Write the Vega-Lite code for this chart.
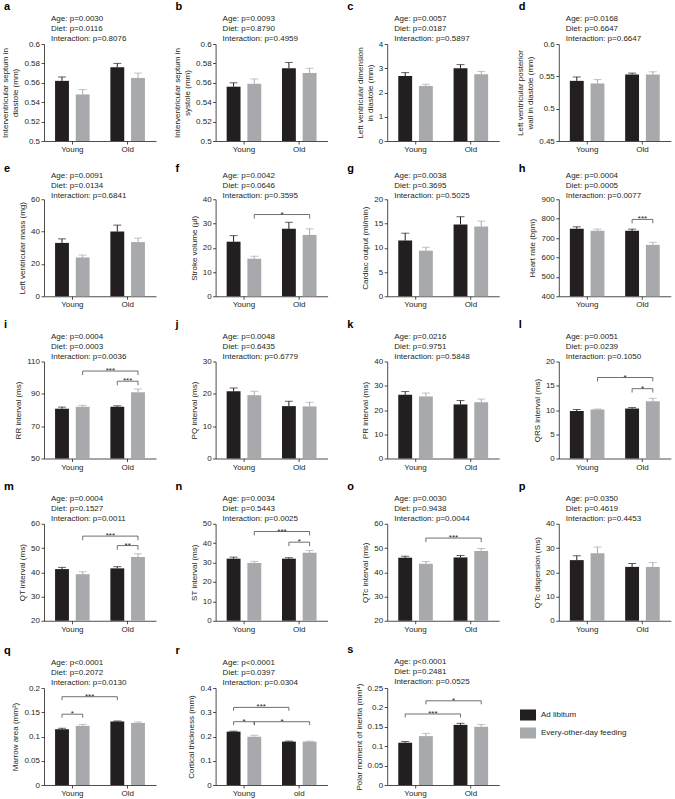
{
  "$schema": "https://vega.github.io/schema/vega-lite/v6.json",
  "background": "white",
  "padding": {"left": 1, "top": 1, "right": 5, "bottom": 2},
  "config": {
    "font": "Liberation Sans",
    "numberFormat": "~f",
    "view": {"stroke": null},
    "axis": {"domainColor": "#231f20", "tickColor": "#231f20", "labelColor": "#231f20", "titleColor": "#231f20", "labelFontSize": 8, "titleFontSize": 8, "titleFontWeight": "normal", "grid": false, "tickSize": 3, "domainWidth": 0.8, "tickWidth": 0.8},
    "axisX": {"labelAngle": 0, "labelPadding": 1.5},
    "axisY": {"labelPadding": 1.5, "titlePadding": 4, "titleLineHeight": 10},
    "title": {"anchor": "start", "frame": "group", "fontSize": 11, "fontWeight": "bold", "color": "#000000", "subtitleFontSize": 8, "subtitleColor": "#231f20", "subtitleLineHeight": 10, "subtitlePadding": 3, "offset": -3},
    "style": {"group-title": {"dx": -40}, "group-subtitle": {"dx": 7}}
  },
  "datasets": {
    "bars": [
      {"panel":"a","group":"Young","diet":"Ad libitum","mean":0.562,"upper":0.566},
      {"panel":"a","group":"Young","diet":"Every-other-day feeding","mean":0.548,"upper":0.553},
      {"panel":"a","group":"Old","diet":"Ad libitum","mean":0.576,"upper":0.580},
      {"panel":"a","group":"Old","diet":"Every-other-day feeding","mean":0.565,"upper":0.570},
      {"panel":"b","group":"Young","diet":"Ad libitum","mean":0.556,"upper":0.560},
      {"panel":"b","group":"Young","diet":"Every-other-day feeding","mean":0.559,"upper":0.564},
      {"panel":"b","group":"Old","diet":"Ad libitum","mean":0.575,"upper":0.581},
      {"panel":"b","group":"Old","diet":"Every-other-day feeding","mean":0.570,"upper":0.575},
      {"panel":"c","group":"Young","diet":"Ad libitum","mean":2.68,"upper":2.82},
      {"panel":"c","group":"Young","diet":"Every-other-day feeding","mean":2.27,"upper":2.34},
      {"panel":"c","group":"Old","diet":"Ad libitum","mean":3.0,"upper":3.15},
      {"panel":"c","group":"Old","diet":"Every-other-day feeding","mean":2.75,"upper":2.87},
      {"panel":"d","group":"Young","diet":"Ad libitum","mean":0.543,"upper":0.549},
      {"panel":"d","group":"Young","diet":"Every-other-day feeding","mean":0.539,"upper":0.545},
      {"panel":"d","group":"Old","diet":"Ad libitum","mean":0.553,"upper":0.555},
      {"panel":"d","group":"Old","diet":"Every-other-day feeding","mean":0.553,"upper":0.557},
      {"panel":"e","group":"Young","diet":"Ad libitum","mean":33,"upper":35.5},
      {"panel":"e","group":"Young","diet":"Every-other-day feeding","mean":24,"upper":25.5},
      {"panel":"e","group":"Old","diet":"Ad libitum","mean":40,"upper":44},
      {"panel":"e","group":"Old","diet":"Every-other-day feeding","mean":33.5,"upper":36},
      {"panel":"f","group":"Young","diet":"Ad libitum","mean":22.5,"upper":25},
      {"panel":"f","group":"Young","diet":"Every-other-day feeding","mean":15.5,"upper":16.5},
      {"panel":"f","group":"Old","diet":"Ad libitum","mean":27.8,"upper":30.5},
      {"panel":"f","group":"Old","diet":"Every-other-day feeding","mean":25.3,"upper":27.8},
      {"panel":"g","group":"Young","diet":"Ad libitum","mean":11.5,"upper":13},
      {"panel":"g","group":"Young","diet":"Every-other-day feeding","mean":9.4,"upper":10.1},
      {"panel":"g","group":"Old","diet":"Ad libitum","mean":14.8,"upper":16.4},
      {"panel":"g","group":"Old","diet":"Every-other-day feeding","mean":14.4,"upper":15.5},
      {"panel":"h","group":"Young","diet":"Ad libitum","mean":748,"upper":758},
      {"panel":"h","group":"Young","diet":"Every-other-day feeding","mean":738,"upper":746},
      {"panel":"h","group":"Old","diet":"Ad libitum","mean":737,"upper":746},
      {"panel":"h","group":"Old","diet":"Every-other-day feeding","mean":665,"upper":678},
      {"panel":"i","group":"Young","diet":"Ad libitum","mean":80.8,"upper":81.8},
      {"panel":"i","group":"Young","diet":"Every-other-day feeding","mean":82,"upper":82.9},
      {"panel":"i","group":"Old","diet":"Ad libitum","mean":82,"upper":82.6},
      {"panel":"i","group":"Old","diet":"Every-other-day feeding","mean":91,"upper":93},
      {"panel":"j","group":"Young","diet":"Ad libitum","mean":20.8,"upper":21.8},
      {"panel":"j","group":"Young","diet":"Every-other-day feeding","mean":19.6,"upper":20.8},
      {"panel":"j","group":"Old","diet":"Ad libitum","mean":16.2,"upper":17.7},
      {"panel":"j","group":"Old","diet":"Every-other-day feeding","mean":16.1,"upper":17.4},
      {"panel":"k","group":"Young","diet":"Ad libitum","mean":26.3,"upper":27.6},
      {"panel":"k","group":"Young","diet":"Every-other-day feeding","mean":25.6,"upper":27},
      {"panel":"k","group":"Old","diet":"Ad libitum","mean":22.3,"upper":23.9},
      {"panel":"k","group":"Old","diet":"Every-other-day feeding","mean":23.2,"upper":24.5},
      {"panel":"l","group":"Young","diet":"Ad libitum","mean":9.8,"upper":10.1},
      {"panel":"l","group":"Young","diet":"Every-other-day feeding","mean":10.1,"upper":10.2},
      {"panel":"l","group":"Old","diet":"Ad libitum","mean":10.3,"upper":10.5},
      {"panel":"l","group":"Old","diet":"Every-other-day feeding","mean":11.8,"upper":12.4},
      {"panel":"m","group":"Young","diet":"Ad libitum","mean":41.3,"upper":42},
      {"panel":"m","group":"Young","diet":"Every-other-day feeding","mean":39.2,"upper":40.2},
      {"panel":"m","group":"Old","diet":"Ad libitum","mean":41.6,"upper":42.3},
      {"panel":"m","group":"Old","diet":"Every-other-day feeding","mean":46.3,"upper":47.6},
      {"panel":"n","group":"Young","diet":"Ad libitum","mean":32,"upper":32.8},
      {"panel":"n","group":"Young","diet":"Every-other-day feeding","mean":29.8,"upper":30.6},
      {"panel":"n","group":"Old","diet":"Ad libitum","mean":32,"upper":32.5},
      {"panel":"n","group":"Old","diet":"Every-other-day feeding","mean":35,"upper":36.2},
      {"panel":"o","group":"Young","diet":"Ad libitum","mean":46,"upper":46.6},
      {"panel":"o","group":"Young","diet":"Every-other-day feeding","mean":43.5,"upper":44.4},
      {"panel":"o","group":"Old","diet":"Ad libitum","mean":46.1,"upper":46.9},
      {"panel":"o","group":"Old","diet":"Every-other-day feeding","mean":48.8,"upper":49.8},
      {"panel":"p","group":"Young","diet":"Ad libitum","mean":25,"upper":26.8},
      {"panel":"p","group":"Young","diet":"Every-other-day feeding","mean":27.8,"upper":30.4},
      {"panel":"p","group":"Old","diet":"Ad libitum","mean":22.2,"upper":23.6},
      {"panel":"p","group":"Old","diet":"Every-other-day feeding","mean":22.2,"upper":24},
      {"panel":"q","group":"Young","diet":"Ad libitum","mean":0.115,"upper":0.117},
      {"panel":"q","group":"Young","diet":"Every-other-day feeding","mean":0.122,"upper":0.125},
      {"panel":"q","group":"Old","diet":"Ad libitum","mean":0.131,"upper":0.132},
      {"panel":"q","group":"Old","diet":"Every-other-day feeding","mean":0.128,"upper":0.130},
      {"panel":"r","group":"Young","diet":"Ad libitum","mean":0.220,"upper":0.222},
      {"panel":"r","group":"Young","diet":"Every-other-day feeding","mean":0.199,"upper":0.205},
      {"panel":"r","group":"Old","diet":"Ad libitum","mean":0.179,"upper":0.181},
      {"panel":"r","group":"Old","diet":"Every-other-day feeding","mean":0.179,"upper":0.181},
      {"panel":"s","group":"Young","diet":"Ad libitum","mean":0.109,"upper":0.112},
      {"panel":"s","group":"Young","diet":"Every-other-day feeding","mean":0.126,"upper":0.133},
      {"panel":"s","group":"Old","diet":"Ad libitum","mean":0.155,"upper":0.159},
      {"panel":"s","group":"Old","diet":"Every-other-day feeding","mean":0.150,"upper":0.156}
    ],
    "brk": [
      {"panel":"f","id":"f1","ord":1,"group":"Young","diet":"Every-other-day feeding","value":32.0},
      {"panel":"f","id":"f1","ord":2,"group":"Young","diet":"Every-other-day feeding","value":33.7},
      {"panel":"f","id":"f1","ord":3,"group":"Old","diet":"Every-other-day feeding","value":33.7},
      {"panel":"f","id":"f1","ord":4,"group":"Old","diet":"Every-other-day feeding","value":32.0},
      {"panel":"h","id":"h1","ord":1,"group":"Old","diet":"Ad libitum","value":776},
      {"panel":"h","id":"h1","ord":2,"group":"Old","diet":"Ad libitum","value":796},
      {"panel":"h","id":"h1","ord":3,"group":"Old","diet":"Every-other-day feeding","value":796},
      {"panel":"h","id":"h1","ord":4,"group":"Old","diet":"Every-other-day feeding","value":776},
      {"panel":"i","id":"i1","ord":1,"group":"Young","diet":"Every-other-day feeding","value":101.6},
      {"panel":"i","id":"i1","ord":2,"group":"Young","diet":"Every-other-day feeding","value":104.1},
      {"panel":"i","id":"i1","ord":3,"group":"Old","diet":"Every-other-day feeding","value":104.1},
      {"panel":"i","id":"i1","ord":4,"group":"Old","diet":"Every-other-day feeding","value":101.6},
      {"panel":"i","id":"i2","ord":1,"group":"Old","diet":"Ad libitum","value":95.3},
      {"panel":"i","id":"i2","ord":2,"group":"Old","diet":"Ad libitum","value":97.8},
      {"panel":"i","id":"i2","ord":3,"group":"Old","diet":"Every-other-day feeding","value":97.8},
      {"panel":"i","id":"i2","ord":4,"group":"Old","diet":"Every-other-day feeding","value":95.3},
      {"panel":"l","id":"l1","ord":1,"group":"Young","diet":"Every-other-day feeding","value":15.9},
      {"panel":"l","id":"l1","ord":2,"group":"Young","diet":"Every-other-day feeding","value":16.7},
      {"panel":"l","id":"l1","ord":3,"group":"Old","diet":"Every-other-day feeding","value":16.7},
      {"panel":"l","id":"l1","ord":4,"group":"Old","diet":"Every-other-day feeding","value":15.9},
      {"panel":"l","id":"l2","ord":1,"group":"Old","diet":"Ad libitum","value":13.6},
      {"panel":"l","id":"l2","ord":2,"group":"Old","diet":"Ad libitum","value":14.4},
      {"panel":"l","id":"l2","ord":3,"group":"Old","diet":"Every-other-day feeding","value":14.4},
      {"panel":"l","id":"l2","ord":4,"group":"Old","diet":"Every-other-day feeding","value":13.6},
      {"panel":"m","id":"m1","ord":1,"group":"Young","diet":"Every-other-day feeding","value":53.2},
      {"panel":"m","id":"m1","ord":2,"group":"Young","diet":"Every-other-day feeding","value":54.9},
      {"panel":"m","id":"m1","ord":3,"group":"Old","diet":"Every-other-day feeding","value":54.9},
      {"panel":"m","id":"m1","ord":4,"group":"Old","diet":"Every-other-day feeding","value":53.2},
      {"panel":"m","id":"m2","ord":1,"group":"Old","diet":"Ad libitum","value":49.3},
      {"panel":"m","id":"m2","ord":2,"group":"Old","diet":"Ad libitum","value":51},
      {"panel":"m","id":"m2","ord":3,"group":"Old","diet":"Every-other-day feeding","value":51},
      {"panel":"m","id":"m2","ord":4,"group":"Old","diet":"Every-other-day feeding","value":49.3},
      {"panel":"n","id":"n1","ord":1,"group":"Young","diet":"Every-other-day feeding","value":44},
      {"panel":"n","id":"n1","ord":2,"group":"Young","diet":"Every-other-day feeding","value":46},
      {"panel":"n","id":"n1","ord":3,"group":"Old","diet":"Every-other-day feeding","value":46},
      {"panel":"n","id":"n1","ord":4,"group":"Old","diet":"Every-other-day feeding","value":44},
      {"panel":"n","id":"n2","ord":1,"group":"Old","diet":"Ad libitum","value":38.5},
      {"panel":"n","id":"n2","ord":2,"group":"Old","diet":"Ad libitum","value":40.5},
      {"panel":"n","id":"n2","ord":3,"group":"Old","diet":"Every-other-day feeding","value":40.5},
      {"panel":"n","id":"n2","ord":4,"group":"Old","diet":"Every-other-day feeding","value":38.5},
      {"panel":"o","id":"o1","ord":1,"group":"Young","diet":"Every-other-day feeding","value":52.4},
      {"panel":"o","id":"o1","ord":2,"group":"Young","diet":"Every-other-day feeding","value":54.1},
      {"panel":"o","id":"o1","ord":3,"group":"Old","diet":"Every-other-day feeding","value":54.1},
      {"panel":"o","id":"o1","ord":4,"group":"Old","diet":"Every-other-day feeding","value":52.4},
      {"panel":"q","id":"q1","ord":1,"group":"Young","diet":"Ad libitum","value":0.175},
      {"panel":"q","id":"q1","ord":2,"group":"Young","diet":"Ad libitum","value":0.182},
      {"panel":"q","id":"q1","ord":3,"group":"Old","diet":"Ad libitum","value":0.182},
      {"panel":"q","id":"q1","ord":4,"group":"Old","diet":"Ad libitum","value":0.175},
      {"panel":"q","id":"q2","ord":1,"group":"Young","diet":"Ad libitum","value":0.139},
      {"panel":"q","id":"q2","ord":2,"group":"Young","diet":"Ad libitum","value":0.146},
      {"panel":"q","id":"q2","ord":3,"group":"Young","diet":"Every-other-day feeding","value":0.146},
      {"panel":"q","id":"q2","ord":4,"group":"Young","diet":"Every-other-day feeding","value":0.139},
      {"panel":"r","id":"r1","ord":1,"group":"Young","diet":"Ad libitum","value":0.306},
      {"panel":"r","id":"r1","ord":2,"group":"Young","diet":"Ad libitum","value":0.320},
      {"panel":"r","id":"r1","ord":3,"group":"Old","diet":"Ad libitum","value":0.320},
      {"panel":"r","id":"r1","ord":4,"group":"Old","diet":"Ad libitum","value":0.306},
      {"panel":"r","id":"r2","ord":1,"group":"Young","diet":"Ad libitum","value":0.247},
      {"panel":"r","id":"r2","ord":2,"group":"Young","diet":"Ad libitum","value":0.261},
      {"panel":"r","id":"r2","ord":3,"group":"Young","diet":"Every-other-day feeding","value":0.261},
      {"panel":"r","id":"r2","ord":4,"group":"Young","diet":"Every-other-day feeding","value":0.247},
      {"panel":"r","id":"r3","ord":1,"group":"Young","diet":"Every-other-day feeding","value":0.247},
      {"panel":"r","id":"r3","ord":2,"group":"Young","diet":"Every-other-day feeding","value":0.261},
      {"panel":"r","id":"r3","ord":3,"group":"Old","diet":"Every-other-day feeding","value":0.261},
      {"panel":"r","id":"r3","ord":4,"group":"Old","diet":"Every-other-day feeding","value":0.247},
      {"panel":"s","id":"s1","ord":1,"group":"Young","diet":"Every-other-day feeding","value":0.208},
      {"panel":"s","id":"s1","ord":2,"group":"Young","diet":"Every-other-day feeding","value":0.217},
      {"panel":"s","id":"s1","ord":3,"group":"Old","diet":"Every-other-day feeding","value":0.217},
      {"panel":"s","id":"s1","ord":4,"group":"Old","diet":"Every-other-day feeding","value":0.208},
      {"panel":"s","id":"s2","ord":1,"group":"Young","diet":"Ad libitum","value":0.174},
      {"panel":"s","id":"s2","ord":2,"group":"Young","diet":"Ad libitum","value":0.183},
      {"panel":"s","id":"s2","ord":3,"group":"Old","diet":"Ad libitum","value":0.183},
      {"panel":"s","id":"s2","ord":4,"group":"Old","diet":"Ad libitum","value":0.174}
    ],
    "stars": [
      {"panel":"f","kind":"cross","group":"Young","diet":"Every-other-day feeding","value":33.7,"label":"*"},
      {"panel":"h","kind":"pair","group":"Old","diet":"Ad libitum","value":796,"label":"***"},
      {"panel":"i","kind":"cross","group":"Young","diet":"Every-other-day feeding","value":104.1,"label":"***"},
      {"panel":"i","kind":"pair","group":"Old","diet":"Ad libitum","value":97.8,"label":"***"},
      {"panel":"l","kind":"cross","group":"Young","diet":"Every-other-day feeding","value":16.7,"label":"*"},
      {"panel":"l","kind":"pair","group":"Old","diet":"Ad libitum","value":14.4,"label":"*"},
      {"panel":"m","kind":"cross","group":"Young","diet":"Every-other-day feeding","value":54.9,"label":"***"},
      {"panel":"m","kind":"pair","group":"Old","diet":"Ad libitum","value":51,"label":"**"},
      {"panel":"n","kind":"cross","group":"Young","diet":"Every-other-day feeding","value":46,"label":"***"},
      {"panel":"n","kind":"pair","group":"Old","diet":"Ad libitum","value":40.5,"label":"*"},
      {"panel":"o","kind":"cross","group":"Young","diet":"Every-other-day feeding","value":54.1,"label":"***"},
      {"panel":"q","kind":"cross","group":"Young","diet":"Ad libitum","value":0.182,"label":"***"},
      {"panel":"q","kind":"pair","group":"Young","diet":"Ad libitum","value":0.146,"label":"*"},
      {"panel":"r","kind":"cross","group":"Young","diet":"Ad libitum","value":0.320,"label":"***"},
      {"panel":"r","kind":"pair","group":"Young","diet":"Ad libitum","value":0.261,"label":"*"},
      {"panel":"r","kind":"cross","group":"Young","diet":"Every-other-day feeding","value":0.261,"label":"*"},
      {"panel":"s","kind":"cross","group":"Young","diet":"Every-other-day feeding","value":0.217,"label":"*"},
      {"panel":"s","kind":"cross","group":"Young","diet":"Ad libitum","value":0.183,"label":"***"}
    ]
  },
  "spacing": 9.25,
  "resolve": {"scale": {"xOffset": "independent"}},
  "vconcat": [
   {"hconcat": [
    {"title": {"text": "a", "subtitle": ["Age: p=0.0030", "Diet: p=0.0116", "Interaction: p=0.8076"]}, "width": 112, "height": 97,
     "encoding": {"x": {"field": "group", "type": "nominal", "sort": ["Young", "Old"], "scale": {"paddingInner": 0.375, "paddingOuter": 0.2}, "axis": {"title": null}},
       "y": {"field": "mean", "type": "quantitative", "scale": {"domain": [0.5, 0.6], "nice": false, "zero": false}, "axis": {"values": [0.5, 0.52, 0.54, 0.56, 0.58, 0.6], "title": ["Interventricular septum in", "diastole (mm)"]}}},
     "layer": [
       {"data": {"name": "bars"}, "transform": [{"filter": "datum.panel === 'a'"}], "mark": "bar", "encoding": {"y2": {"datum": 0.5}, "xOffset": {"field": "diet", "type": "nominal", "sort": ["Ad libitum", "Every-other-day feeding"], "scale": {"paddingInner": 0.33, "paddingOuter": 0}}, "color": {"field": "diet", "type": "nominal", "scale": {"domain": ["Ad libitum", "Every-other-day feeding"], "range": ["#231f20", "#a7a9ac"]}, "legend": {"orient": "none", "legendX": 476, "legendY": 663, "title": null, "symbolType": "M-1,-0.69H1V0.69H-1Z", "symbolSize": 256, "symbolStrokeWidth": 0, "labelFontSize": 8, "labelColor": "#231f20", "rowPadding": 4, "labelOffset": 5}}}},
       {"data": {"name": "bars"}, "transform": [{"filter": "datum.panel === 'a'"}], "mark": {"type": "rule", "strokeWidth": 1}, "encoding": {"xOffset": {"field": "diet", "type": "nominal", "sort": ["Ad libitum", "Every-other-day feeding"]}, "y2": {"field": "upper"}, "color": {"field": "diet", "type": "nominal", "legend": null}}},
       {"data": {"name": "bars"}, "transform": [{"filter": "datum.panel === 'a'"}], "mark": {"type": "tick", "thickness": 1, "size": 8}, "encoding": {"xOffset": {"field": "diet", "type": "nominal", "sort": ["Ad libitum", "Every-other-day feeding"]}, "y": {"field": "upper", "type": "quantitative", "scale": {"domain": [0.5, 0.6], "nice": false, "zero": false}}, "color": {"field": "diet", "type": "nominal", "legend": null}}}
     ]},
    {"title": {"text": "b", "subtitle": ["Age: p=0.0093", "Diet: p=0.8790", "Interaction: p=0.4959"]}, "width": 112, "height": 97,
     "encoding": {"x": {"field": "group", "type": "nominal", "sort": ["Young", "Old"], "scale": {"paddingInner": 0.375, "paddingOuter": 0.2}, "axis": {"title": null}},
       "y": {"field": "mean", "type": "quantitative", "scale": {"domain": [0.5, 0.6], "nice": false, "zero": false}, "axis": {"values": [0.5, 0.52, 0.54, 0.56, 0.58, 0.6], "title": ["Interventricular septum in", "systole (mm)"]}}},
     "layer": [
       {"data": {"name": "bars"}, "transform": [{"filter": "datum.panel === 'b'"}], "mark": "bar", "encoding": {"y2": {"datum": 0.5}, "xOffset": {"field": "diet", "type": "nominal", "sort": ["Ad libitum", "Every-other-day feeding"], "scale": {"paddingInner": 0.33, "paddingOuter": 0}}, "color": {"field": "diet", "type": "nominal", "scale": {"domain": ["Ad libitum", "Every-other-day feeding"], "range": ["#231f20", "#a7a9ac"]}}}},
       {"data": {"name": "bars"}, "transform": [{"filter": "datum.panel === 'b'"}], "mark": {"type": "rule", "strokeWidth": 1}, "encoding": {"xOffset": {"field": "diet", "type": "nominal", "sort": ["Ad libitum", "Every-other-day feeding"]}, "y2": {"field": "upper"}, "color": {"field": "diet", "type": "nominal", "legend": null}}},
       {"data": {"name": "bars"}, "transform": [{"filter": "datum.panel === 'b'"}], "mark": {"type": "tick", "thickness": 1, "size": 8}, "encoding": {"xOffset": {"field": "diet", "type": "nominal", "sort": ["Ad libitum", "Every-other-day feeding"]}, "y": {"field": "upper", "type": "quantitative", "scale": {"domain": [0.5, 0.6], "nice": false, "zero": false}}, "color": {"field": "diet", "type": "nominal", "legend": null}}}
     ]},
    {"title": {"text": "c", "subtitle": ["Age: p=0.0057", "Diet: p=0.0187", "Interaction: p=0.5897"]}, "width": 112, "height": 97,
     "encoding": {"x": {"field": "group", "type": "nominal", "sort": ["Young", "Old"], "scale": {"paddingInner": 0.375, "paddingOuter": 0.2}, "axis": {"title": null}},
       "y": {"field": "mean", "type": "quantitative", "scale": {"domain": [0, 4], "nice": false, "zero": false}, "axis": {"values": [0, 1, 2, 3, 4], "title": ["Left ventricular dimension", "in diastole (mm)"]}}},
     "layer": [
       {"data": {"name": "bars"}, "transform": [{"filter": "datum.panel === 'c'"}], "mark": "bar", "encoding": {"y2": {"datum": 0}, "xOffset": {"field": "diet", "type": "nominal", "sort": ["Ad libitum", "Every-other-day feeding"], "scale": {"paddingInner": 0.33, "paddingOuter": 0}}, "color": {"field": "diet", "type": "nominal", "scale": {"domain": ["Ad libitum", "Every-other-day feeding"], "range": ["#231f20", "#a7a9ac"]}}}},
       {"data": {"name": "bars"}, "transform": [{"filter": "datum.panel === 'c'"}], "mark": {"type": "rule", "strokeWidth": 1}, "encoding": {"xOffset": {"field": "diet", "type": "nominal", "sort": ["Ad libitum", "Every-other-day feeding"]}, "y2": {"field": "upper"}, "color": {"field": "diet", "type": "nominal", "legend": null}}},
       {"data": {"name": "bars"}, "transform": [{"filter": "datum.panel === 'c'"}], "mark": {"type": "tick", "thickness": 1, "size": 8}, "encoding": {"xOffset": {"field": "diet", "type": "nominal", "sort": ["Ad libitum", "Every-other-day feeding"]}, "y": {"field": "upper", "type": "quantitative", "scale": {"domain": [0, 4], "nice": false, "zero": false}}, "color": {"field": "diet", "type": "nominal", "legend": null}}}
     ]},
    {"title": {"text": "d", "subtitle": ["Age: p=0.0168", "Diet: p=0.6647", "Interaction: p=0.6647"]}, "width": 112, "height": 97,
     "encoding": {"x": {"field": "group", "type": "nominal", "sort": ["Young", "Old"], "scale": {"paddingInner": 0.375, "paddingOuter": 0.2}, "axis": {"title": null}},
       "y": {"field": "mean", "type": "quantitative", "scale": {"domain": [0.45, 0.6], "nice": false, "zero": false}, "axis": {"values": [0.45, 0.5, 0.55, 0.6], "title": ["Left ventricular posterior", "wall in diastole (mm)"]}}},
     "layer": [
       {"data": {"name": "bars"}, "transform": [{"filter": "datum.panel === 'd'"}], "mark": "bar", "encoding": {"y2": {"datum": 0.45}, "xOffset": {"field": "diet", "type": "nominal", "sort": ["Ad libitum", "Every-other-day feeding"], "scale": {"paddingInner": 0.33, "paddingOuter": 0}}, "color": {"field": "diet", "type": "nominal", "scale": {"domain": ["Ad libitum", "Every-other-day feeding"], "range": ["#231f20", "#a7a9ac"]}}}},
       {"data": {"name": "bars"}, "transform": [{"filter": "datum.panel === 'd'"}], "mark": {"type": "rule", "strokeWidth": 1}, "encoding": {"xOffset": {"field": "diet", "type": "nominal", "sort": ["Ad libitum", "Every-other-day feeding"]}, "y2": {"field": "upper"}, "color": {"field": "diet", "type": "nominal", "legend": null}}},
       {"data": {"name": "bars"}, "transform": [{"filter": "datum.panel === 'd'"}], "mark": {"type": "tick", "thickness": 1, "size": 8}, "encoding": {"xOffset": {"field": "diet", "type": "nominal", "sort": ["Ad libitum", "Every-other-day feeding"]}, "y": {"field": "upper", "type": "quantitative", "scale": {"domain": [0.45, 0.6], "nice": false, "zero": false}}, "color": {"field": "diet", "type": "nominal", "legend": null}}}
     ]}
   ], "bounds": "flush", "spacing": 59.6, "resolve": {"scale": {"xOffset": "independent"}}},
   {"hconcat": [
    {"title": {"text": "e", "subtitle": ["Age: p=0.0091", "Diet: p=0.0134", "Interaction: p=0.6841"], "subtitlePadding": -2, "offset": -5}, "width": 112, "height": 97,
     "encoding": {"x": {"field": "group", "type": "nominal", "sort": ["Young", "Old"], "scale": {"paddingInner": 0.375, "paddingOuter": 0.2}, "axis": {"title": null}},
       "y": {"field": "mean", "type": "quantitative", "scale": {"domain": [0, 60], "nice": false, "zero": false}, "axis": {"values": [0, 20, 40, 60], "title": "Left ventricular mass (mg)"}}},
     "layer": [
       {"data": {"name": "bars"}, "transform": [{"filter": "datum.panel === 'e'"}], "mark": "bar", "encoding": {"y2": {"datum": 0}, "xOffset": {"field": "diet", "type": "nominal", "sort": ["Ad libitum", "Every-other-day feeding"], "scale": {"paddingInner": 0.33, "paddingOuter": 0}}, "color": {"field": "diet", "type": "nominal", "scale": {"domain": ["Ad libitum", "Every-other-day feeding"], "range": ["#231f20", "#a7a9ac"]}}}},
       {"data": {"name": "bars"}, "transform": [{"filter": "datum.panel === 'e'"}], "mark": {"type": "rule", "strokeWidth": 1}, "encoding": {"xOffset": {"field": "diet", "type": "nominal", "sort": ["Ad libitum", "Every-other-day feeding"]}, "y2": {"field": "upper"}, "color": {"field": "diet", "type": "nominal", "legend": null}}},
       {"data": {"name": "bars"}, "transform": [{"filter": "datum.panel === 'e'"}], "mark": {"type": "tick", "thickness": 1, "size": 8}, "encoding": {"xOffset": {"field": "diet", "type": "nominal", "sort": ["Ad libitum", "Every-other-day feeding"]}, "y": {"field": "upper", "type": "quantitative", "scale": {"domain": [0, 60], "nice": false, "zero": false}}, "color": {"field": "diet", "type": "nominal", "legend": null}}}
     ]},
    {"title": {"text": "f", "subtitle": ["Age: p=0.0042", "Diet: p=0.0646", "Interaction: p=0.3595"], "subtitlePadding": -2, "offset": -5}, "width": 112, "height": 97,
     "encoding": {"x": {"field": "group", "type": "nominal", "sort": ["Young", "Old"], "scale": {"paddingInner": 0.375, "paddingOuter": 0.2}, "axis": {"title": null}},
       "y": {"field": "mean", "type": "quantitative", "scale": {"domain": [0, 40], "nice": false, "zero": false}, "axis": {"values": [0, 10, 20, 30, 40], "title": "Stroke volume (μl)"}}},
     "layer": [
       {"data": {"name": "bars"}, "transform": [{"filter": "datum.panel === 'f'"}], "mark": "bar", "encoding": {"y2": {"datum": 0}, "xOffset": {"field": "diet", "type": "nominal", "sort": ["Ad libitum", "Every-other-day feeding"], "scale": {"paddingInner": 0.33, "paddingOuter": 0}}, "color": {"field": "diet", "type": "nominal", "scale": {"domain": ["Ad libitum", "Every-other-day feeding"], "range": ["#231f20", "#a7a9ac"]}}}},
       {"data": {"name": "bars"}, "transform": [{"filter": "datum.panel === 'f'"}], "mark": {"type": "rule", "strokeWidth": 1}, "encoding": {"xOffset": {"field": "diet", "type": "nominal", "sort": ["Ad libitum", "Every-other-day feeding"]}, "y2": {"field": "upper"}, "color": {"field": "diet", "type": "nominal", "legend": null}}},
       {"data": {"name": "bars"}, "transform": [{"filter": "datum.panel === 'f'"}], "mark": {"type": "tick", "thickness": 1, "size": 8}, "encoding": {"xOffset": {"field": "diet", "type": "nominal", "sort": ["Ad libitum", "Every-other-day feeding"]}, "y": {"field": "upper", "type": "quantitative", "scale": {"domain": [0, 40], "nice": false, "zero": false}}, "color": {"field": "diet", "type": "nominal", "legend": null}}},
       {"data": {"name": "brk"}, "transform": [{"filter": "datum.panel === 'f'"}], "mark": {"type": "line", "color": "#4d4d4d", "strokeWidth": 0.8}, "encoding": {"xOffset": {"field": "diet", "type": "nominal", "sort": ["Ad libitum", "Every-other-day feeding"]}, "y": {"field": "value", "type": "quantitative", "scale": {"domain": [0, 40], "nice": false, "zero": false}}, "detail": {"field": "id"}, "order": {"field": "ord"}}},
       {"data": {"name": "stars"}, "transform": [{"filter": "datum.panel === 'f' && datum.kind === 'cross'"}], "mark": {"type": "text", "fontSize": 8, "baseline": "alphabetic", "dy": 2, "dx": 27.65, "color": "#231f20"}, "encoding": {"xOffset": {"field": "diet", "type": "nominal", "sort": ["Ad libitum", "Every-other-day feeding"]}, "y": {"field": "value", "type": "quantitative", "scale": {"domain": [0, 40], "nice": false, "zero": false}}, "text": {"field": "label"}}}
     ]},
    {"title": {"text": "g", "subtitle": ["Age: p=0.0038", "Diet: p=0.3695", "Interaction: p=0.5025"], "subtitlePadding": -2, "offset": -5}, "width": 112, "height": 97,
     "encoding": {"x": {"field": "group", "type": "nominal", "sort": ["Young", "Old"], "scale": {"paddingInner": 0.375, "paddingOuter": 0.2}, "axis": {"title": null}},
       "y": {"field": "mean", "type": "quantitative", "scale": {"domain": [0, 20], "nice": false, "zero": false}, "axis": {"values": [0, 5, 10, 15, 20], "title": "Cardiac output (ml/min)"}}},
     "layer": [
       {"data": {"name": "bars"}, "transform": [{"filter": "datum.panel === 'g'"}], "mark": "bar", "encoding": {"y2": {"datum": 0}, "xOffset": {"field": "diet", "type": "nominal", "sort": ["Ad libitum", "Every-other-day feeding"], "scale": {"paddingInner": 0.33, "paddingOuter": 0}}, "color": {"field": "diet", "type": "nominal", "scale": {"domain": ["Ad libitum", "Every-other-day feeding"], "range": ["#231f20", "#a7a9ac"]}}}},
       {"data": {"name": "bars"}, "transform": [{"filter": "datum.panel === 'g'"}], "mark": {"type": "rule", "strokeWidth": 1}, "encoding": {"xOffset": {"field": "diet", "type": "nominal", "sort": ["Ad libitum", "Every-other-day feeding"]}, "y2": {"field": "upper"}, "color": {"field": "diet", "type": "nominal", "legend": null}}},
       {"data": {"name": "bars"}, "transform": [{"filter": "datum.panel === 'g'"}], "mark": {"type": "tick", "thickness": 1, "size": 8}, "encoding": {"xOffset": {"field": "diet", "type": "nominal", "sort": ["Ad libitum", "Every-other-day feeding"]}, "y": {"field": "upper", "type": "quantitative", "scale": {"domain": [0, 20], "nice": false, "zero": false}}, "color": {"field": "diet", "type": "nominal", "legend": null}}}
     ]},
    {"title": {"text": "h", "subtitle": ["Age: p=0.0004", "Diet: p=0.0005", "Interaction: p=0.0077"], "subtitlePadding": -2, "offset": -5}, "width": 112, "height": 97,
     "encoding": {"x": {"field": "group", "type": "nominal", "sort": ["Young", "Old"], "scale": {"paddingInner": 0.375, "paddingOuter": 0.2}, "axis": {"title": null}},
       "y": {"field": "mean", "type": "quantitative", "scale": {"domain": [400, 900], "nice": false, "zero": false}, "axis": {"values": [400, 500, 600, 700, 800, 900], "title": "Heart rate (bpm)"}}},
     "layer": [
       {"data": {"name": "bars"}, "transform": [{"filter": "datum.panel === 'h'"}], "mark": "bar", "encoding": {"y2": {"datum": 400}, "xOffset": {"field": "diet", "type": "nominal", "sort": ["Ad libitum", "Every-other-day feeding"], "scale": {"paddingInner": 0.33, "paddingOuter": 0}}, "color": {"field": "diet", "type": "nominal", "scale": {"domain": ["Ad libitum", "Every-other-day feeding"], "range": ["#231f20", "#a7a9ac"]}}}},
       {"data": {"name": "bars"}, "transform": [{"filter": "datum.panel === 'h'"}], "mark": {"type": "rule", "strokeWidth": 1}, "encoding": {"xOffset": {"field": "diet", "type": "nominal", "sort": ["Ad libitum", "Every-other-day feeding"]}, "y2": {"field": "upper"}, "color": {"field": "diet", "type": "nominal", "legend": null}}},
       {"data": {"name": "bars"}, "transform": [{"filter": "datum.panel === 'h'"}], "mark": {"type": "tick", "thickness": 1, "size": 8}, "encoding": {"xOffset": {"field": "diet", "type": "nominal", "sort": ["Ad libitum", "Every-other-day feeding"]}, "y": {"field": "upper", "type": "quantitative", "scale": {"domain": [400, 900], "nice": false, "zero": false}}, "color": {"field": "diet", "type": "nominal", "legend": null}}},
       {"data": {"name": "brk"}, "transform": [{"filter": "datum.panel === 'h'"}], "mark": {"type": "line", "color": "#4d4d4d", "strokeWidth": 0.8}, "encoding": {"xOffset": {"field": "diet", "type": "nominal", "sort": ["Ad libitum", "Every-other-day feeding"]}, "y": {"field": "value", "type": "quantitative", "scale": {"domain": [400, 900], "nice": false, "zero": false}}, "detail": {"field": "id"}, "order": {"field": "ord"}}},
       {"data": {"name": "stars"}, "transform": [{"filter": "datum.panel === 'h' && datum.kind === 'pair'"}], "mark": {"type": "text", "fontSize": 8, "baseline": "alphabetic", "dy": 2, "color": "#231f20"}, "encoding": {"y": {"field": "value", "type": "quantitative", "scale": {"domain": [400, 900], "nice": false, "zero": false}}, "text": {"field": "label"}}}
     ]}
   ], "bounds": "flush", "spacing": 59.6, "resolve": {"scale": {"xOffset": "independent"}}},
   {"hconcat": [
    {"title": {"text": "i", "subtitle": ["Age: p=0.0004", "Diet: p=0.0003", "Interaction: p=0.0036"]}, "width": 112, "height": 97,
     "encoding": {"x": {"field": "group", "type": "nominal", "sort": ["Young", "Old"], "scale": {"paddingInner": 0.375, "paddingOuter": 0.2}, "axis": {"title": null}},
       "y": {"field": "mean", "type": "quantitative", "scale": {"domain": [50, 110], "nice": false, "zero": false}, "axis": {"values": [50, 70, 90, 110], "title": "RR interval (ms)"}}},
     "layer": [
       {"data": {"name": "bars"}, "transform": [{"filter": "datum.panel === 'i'"}], "mark": "bar", "encoding": {"y2": {"datum": 50}, "xOffset": {"field": "diet", "type": "nominal", "sort": ["Ad libitum", "Every-other-day feeding"], "scale": {"paddingInner": 0.33, "paddingOuter": 0}}, "color": {"field": "diet", "type": "nominal", "scale": {"domain": ["Ad libitum", "Every-other-day feeding"], "range": ["#231f20", "#a7a9ac"]}}}},
       {"data": {"name": "bars"}, "transform": [{"filter": "datum.panel === 'i'"}], "mark": {"type": "rule", "strokeWidth": 1}, "encoding": {"xOffset": {"field": "diet", "type": "nominal", "sort": ["Ad libitum", "Every-other-day feeding"]}, "y2": {"field": "upper"}, "color": {"field": "diet", "type": "nominal", "legend": null}}},
       {"data": {"name": "bars"}, "transform": [{"filter": "datum.panel === 'i'"}], "mark": {"type": "tick", "thickness": 1, "size": 8}, "encoding": {"xOffset": {"field": "diet", "type": "nominal", "sort": ["Ad libitum", "Every-other-day feeding"]}, "y": {"field": "upper", "type": "quantitative", "scale": {"domain": [50, 110], "nice": false, "zero": false}}, "color": {"field": "diet", "type": "nominal", "legend": null}}},
       {"data": {"name": "brk"}, "transform": [{"filter": "datum.panel === 'i'"}], "mark": {"type": "line", "color": "#4d4d4d", "strokeWidth": 0.8}, "encoding": {"xOffset": {"field": "diet", "type": "nominal", "sort": ["Ad libitum", "Every-other-day feeding"]}, "y": {"field": "value", "type": "quantitative", "scale": {"domain": [50, 110], "nice": false, "zero": false}}, "detail": {"field": "id"}, "order": {"field": "ord"}}},
       {"data": {"name": "stars"}, "transform": [{"filter": "datum.panel === 'i' && datum.kind === 'pair'"}], "mark": {"type": "text", "fontSize": 8, "baseline": "alphabetic", "dy": 2, "color": "#231f20"}, "encoding": {"y": {"field": "value", "type": "quantitative", "scale": {"domain": [50, 110], "nice": false, "zero": false}}, "text": {"field": "label"}}},
       {"data": {"name": "stars"}, "transform": [{"filter": "datum.panel === 'i' && datum.kind === 'cross'"}], "mark": {"type": "text", "fontSize": 8, "baseline": "alphabetic", "dy": 2, "dx": 27.65, "color": "#231f20"}, "encoding": {"xOffset": {"field": "diet", "type": "nominal", "sort": ["Ad libitum", "Every-other-day feeding"]}, "y": {"field": "value", "type": "quantitative", "scale": {"domain": [50, 110], "nice": false, "zero": false}}, "text": {"field": "label"}}}
     ]},
    {"title": {"text": "j", "subtitle": ["Age: p=0.0048", "Diet: p=0.6435", "Interaction: p=0.6779"]}, "width": 112, "height": 97,
     "encoding": {"x": {"field": "group", "type": "nominal", "sort": ["Young", "Old"], "scale": {"paddingInner": 0.375, "paddingOuter": 0.2}, "axis": {"title": null}},
       "y": {"field": "mean", "type": "quantitative", "scale": {"domain": [0, 30], "nice": false, "zero": false}, "axis": {"values": [0, 10, 20, 30], "title": "PQ interval (ms)"}}},
     "layer": [
       {"data": {"name": "bars"}, "transform": [{"filter": "datum.panel === 'j'"}], "mark": "bar", "encoding": {"y2": {"datum": 0}, "xOffset": {"field": "diet", "type": "nominal", "sort": ["Ad libitum", "Every-other-day feeding"], "scale": {"paddingInner": 0.33, "paddingOuter": 0}}, "color": {"field": "diet", "type": "nominal", "scale": {"domain": ["Ad libitum", "Every-other-day feeding"], "range": ["#231f20", "#a7a9ac"]}}}},
       {"data": {"name": "bars"}, "transform": [{"filter": "datum.panel === 'j'"}], "mark": {"type": "rule", "strokeWidth": 1}, "encoding": {"xOffset": {"field": "diet", "type": "nominal", "sort": ["Ad libitum", "Every-other-day feeding"]}, "y2": {"field": "upper"}, "color": {"field": "diet", "type": "nominal", "legend": null}}},
       {"data": {"name": "bars"}, "transform": [{"filter": "datum.panel === 'j'"}], "mark": {"type": "tick", "thickness": 1, "size": 8}, "encoding": {"xOffset": {"field": "diet", "type": "nominal", "sort": ["Ad libitum", "Every-other-day feeding"]}, "y": {"field": "upper", "type": "quantitative", "scale": {"domain": [0, 30], "nice": false, "zero": false}}, "color": {"field": "diet", "type": "nominal", "legend": null}}}
     ]},
    {"title": {"text": "k", "subtitle": ["Age: p=0.0216", "Diet: p=0.9751", "Interaction: p=0.5848"]}, "width": 112, "height": 97,
     "encoding": {"x": {"field": "group", "type": "nominal", "sort": ["Young", "Old"], "scale": {"paddingInner": 0.375, "paddingOuter": 0.2}, "axis": {"title": null}},
       "y": {"field": "mean", "type": "quantitative", "scale": {"domain": [0, 40], "nice": false, "zero": false}, "axis": {"values": [0, 10, 20, 30, 40], "title": "PR interval (ms)"}}},
     "layer": [
       {"data": {"name": "bars"}, "transform": [{"filter": "datum.panel === 'k'"}], "mark": "bar", "encoding": {"y2": {"datum": 0}, "xOffset": {"field": "diet", "type": "nominal", "sort": ["Ad libitum", "Every-other-day feeding"], "scale": {"paddingInner": 0.33, "paddingOuter": 0}}, "color": {"field": "diet", "type": "nominal", "scale": {"domain": ["Ad libitum", "Every-other-day feeding"], "range": ["#231f20", "#a7a9ac"]}}}},
       {"data": {"name": "bars"}, "transform": [{"filter": "datum.panel === 'k'"}], "mark": {"type": "rule", "strokeWidth": 1}, "encoding": {"xOffset": {"field": "diet", "type": "nominal", "sort": ["Ad libitum", "Every-other-day feeding"]}, "y2": {"field": "upper"}, "color": {"field": "diet", "type": "nominal", "legend": null}}},
       {"data": {"name": "bars"}, "transform": [{"filter": "datum.panel === 'k'"}], "mark": {"type": "tick", "thickness": 1, "size": 8}, "encoding": {"xOffset": {"field": "diet", "type": "nominal", "sort": ["Ad libitum", "Every-other-day feeding"]}, "y": {"field": "upper", "type": "quantitative", "scale": {"domain": [0, 40], "nice": false, "zero": false}}, "color": {"field": "diet", "type": "nominal", "legend": null}}}
     ]},
    {"title": {"text": "l", "subtitle": ["Age: p=0.0051", "Diet: p=0.0239", "Interaction: p=0.1050"]}, "width": 112, "height": 97,
     "encoding": {"x": {"field": "group", "type": "nominal", "sort": ["Young", "Old"], "scale": {"paddingInner": 0.375, "paddingOuter": 0.2}, "axis": {"title": null}},
       "y": {"field": "mean", "type": "quantitative", "scale": {"domain": [0, 20], "nice": false, "zero": false}, "axis": {"values": [0, 5, 10, 15, 20], "title": "QRS interval (ms)"}}},
     "layer": [
       {"data": {"name": "bars"}, "transform": [{"filter": "datum.panel === 'l'"}], "mark": "bar", "encoding": {"y2": {"datum": 0}, "xOffset": {"field": "diet", "type": "nominal", "sort": ["Ad libitum", "Every-other-day feeding"], "scale": {"paddingInner": 0.33, "paddingOuter": 0}}, "color": {"field": "diet", "type": "nominal", "scale": {"domain": ["Ad libitum", "Every-other-day feeding"], "range": ["#231f20", "#a7a9ac"]}}}},
       {"data": {"name": "bars"}, "transform": [{"filter": "datum.panel === 'l'"}], "mark": {"type": "rule", "strokeWidth": 1}, "encoding": {"xOffset": {"field": "diet", "type": "nominal", "sort": ["Ad libitum", "Every-other-day feeding"]}, "y2": {"field": "upper"}, "color": {"field": "diet", "type": "nominal", "legend": null}}},
       {"data": {"name": "bars"}, "transform": [{"filter": "datum.panel === 'l'"}], "mark": {"type": "tick", "thickness": 1, "size": 8}, "encoding": {"xOffset": {"field": "diet", "type": "nominal", "sort": ["Ad libitum", "Every-other-day feeding"]}, "y": {"field": "upper", "type": "quantitative", "scale": {"domain": [0, 20], "nice": false, "zero": false}}, "color": {"field": "diet", "type": "nominal", "legend": null}}},
       {"data": {"name": "brk"}, "transform": [{"filter": "datum.panel === 'l'"}], "mark": {"type": "line", "color": "#4d4d4d", "strokeWidth": 0.8}, "encoding": {"xOffset": {"field": "diet", "type": "nominal", "sort": ["Ad libitum", "Every-other-day feeding"]}, "y": {"field": "value", "type": "quantitative", "scale": {"domain": [0, 20], "nice": false, "zero": false}}, "detail": {"field": "id"}, "order": {"field": "ord"}}},
       {"data": {"name": "stars"}, "transform": [{"filter": "datum.panel === 'l' && datum.kind === 'pair'"}], "mark": {"type": "text", "fontSize": 8, "baseline": "alphabetic", "dy": 2, "color": "#231f20"}, "encoding": {"y": {"field": "value", "type": "quantitative", "scale": {"domain": [0, 20], "nice": false, "zero": false}}, "text": {"field": "label"}}},
       {"data": {"name": "stars"}, "transform": [{"filter": "datum.panel === 'l' && datum.kind === 'cross'"}], "mark": {"type": "text", "fontSize": 8, "baseline": "alphabetic", "dy": 2, "dx": 27.65, "color": "#231f20"}, "encoding": {"xOffset": {"field": "diet", "type": "nominal", "sort": ["Ad libitum", "Every-other-day feeding"]}, "y": {"field": "value", "type": "quantitative", "scale": {"domain": [0, 20], "nice": false, "zero": false}}, "text": {"field": "label"}}}
     ]}
   ], "bounds": "flush", "spacing": 59.6, "resolve": {"scale": {"xOffset": "independent"}}},
   {"hconcat": [
    {"title": {"text": "m", "subtitle": ["Age: p=0.0004", "Diet: p=0.1527", "Interaction: p=0.0011"]}, "width": 112, "height": 97,
     "encoding": {"x": {"field": "group", "type": "nominal", "sort": ["Young", "Old"], "scale": {"paddingInner": 0.375, "paddingOuter": 0.2}, "axis": {"title": null}},
       "y": {"field": "mean", "type": "quantitative", "scale": {"domain": [20, 60], "nice": false, "zero": false}, "axis": {"values": [20, 30, 40, 50, 60], "title": "QT interval (ms)"}}},
     "layer": [
       {"data": {"name": "bars"}, "transform": [{"filter": "datum.panel === 'm'"}], "mark": "bar", "encoding": {"y2": {"datum": 20}, "xOffset": {"field": "diet", "type": "nominal", "sort": ["Ad libitum", "Every-other-day feeding"], "scale": {"paddingInner": 0.33, "paddingOuter": 0}}, "color": {"field": "diet", "type": "nominal", "scale": {"domain": ["Ad libitum", "Every-other-day feeding"], "range": ["#231f20", "#a7a9ac"]}}}},
       {"data": {"name": "bars"}, "transform": [{"filter": "datum.panel === 'm'"}], "mark": {"type": "rule", "strokeWidth": 1}, "encoding": {"xOffset": {"field": "diet", "type": "nominal", "sort": ["Ad libitum", "Every-other-day feeding"]}, "y2": {"field": "upper"}, "color": {"field": "diet", "type": "nominal", "legend": null}}},
       {"data": {"name": "bars"}, "transform": [{"filter": "datum.panel === 'm'"}], "mark": {"type": "tick", "thickness": 1, "size": 8}, "encoding": {"xOffset": {"field": "diet", "type": "nominal", "sort": ["Ad libitum", "Every-other-day feeding"]}, "y": {"field": "upper", "type": "quantitative", "scale": {"domain": [20, 60], "nice": false, "zero": false}}, "color": {"field": "diet", "type": "nominal", "legend": null}}},
       {"data": {"name": "brk"}, "transform": [{"filter": "datum.panel === 'm'"}], "mark": {"type": "line", "color": "#4d4d4d", "strokeWidth": 0.8}, "encoding": {"xOffset": {"field": "diet", "type": "nominal", "sort": ["Ad libitum", "Every-other-day feeding"]}, "y": {"field": "value", "type": "quantitative", "scale": {"domain": [20, 60], "nice": false, "zero": false}}, "detail": {"field": "id"}, "order": {"field": "ord"}}},
       {"data": {"name": "stars"}, "transform": [{"filter": "datum.panel === 'm' && datum.kind === 'pair'"}], "mark": {"type": "text", "fontSize": 8, "baseline": "alphabetic", "dy": 2, "color": "#231f20"}, "encoding": {"y": {"field": "value", "type": "quantitative", "scale": {"domain": [20, 60], "nice": false, "zero": false}}, "text": {"field": "label"}}},
       {"data": {"name": "stars"}, "transform": [{"filter": "datum.panel === 'm' && datum.kind === 'cross'"}], "mark": {"type": "text", "fontSize": 8, "baseline": "alphabetic", "dy": 2, "dx": 27.65, "color": "#231f20"}, "encoding": {"xOffset": {"field": "diet", "type": "nominal", "sort": ["Ad libitum", "Every-other-day feeding"]}, "y": {"field": "value", "type": "quantitative", "scale": {"domain": [20, 60], "nice": false, "zero": false}}, "text": {"field": "label"}}}
     ]},
    {"title": {"text": "n", "subtitle": ["Age: p=0.0034", "Diet: p=0.5443", "Interaction: p=0.0025"]}, "width": 112, "height": 97,
     "encoding": {"x": {"field": "group", "type": "nominal", "sort": ["Young", "Old"], "scale": {"paddingInner": 0.375, "paddingOuter": 0.2}, "axis": {"title": null}},
       "y": {"field": "mean", "type": "quantitative", "scale": {"domain": [0, 50], "nice": false, "zero": false}, "axis": {"values": [0, 10, 20, 30, 40, 50], "title": "ST interval (ms)"}}},
     "layer": [
       {"data": {"name": "bars"}, "transform": [{"filter": "datum.panel === 'n'"}], "mark": "bar", "encoding": {"y2": {"datum": 0}, "xOffset": {"field": "diet", "type": "nominal", "sort": ["Ad libitum", "Every-other-day feeding"], "scale": {"paddingInner": 0.33, "paddingOuter": 0}}, "color": {"field": "diet", "type": "nominal", "scale": {"domain": ["Ad libitum", "Every-other-day feeding"], "range": ["#231f20", "#a7a9ac"]}}}},
       {"data": {"name": "bars"}, "transform": [{"filter": "datum.panel === 'n'"}], "mark": {"type": "rule", "strokeWidth": 1}, "encoding": {"xOffset": {"field": "diet", "type": "nominal", "sort": ["Ad libitum", "Every-other-day feeding"]}, "y2": {"field": "upper"}, "color": {"field": "diet", "type": "nominal", "legend": null}}},
       {"data": {"name": "bars"}, "transform": [{"filter": "datum.panel === 'n'"}], "mark": {"type": "tick", "thickness": 1, "size": 8}, "encoding": {"xOffset": {"field": "diet", "type": "nominal", "sort": ["Ad libitum", "Every-other-day feeding"]}, "y": {"field": "upper", "type": "quantitative", "scale": {"domain": [0, 50], "nice": false, "zero": false}}, "color": {"field": "diet", "type": "nominal", "legend": null}}},
       {"data": {"name": "brk"}, "transform": [{"filter": "datum.panel === 'n'"}], "mark": {"type": "line", "color": "#4d4d4d", "strokeWidth": 0.8}, "encoding": {"xOffset": {"field": "diet", "type": "nominal", "sort": ["Ad libitum", "Every-other-day feeding"]}, "y": {"field": "value", "type": "quantitative", "scale": {"domain": [0, 50], "nice": false, "zero": false}}, "detail": {"field": "id"}, "order": {"field": "ord"}}},
       {"data": {"name": "stars"}, "transform": [{"filter": "datum.panel === 'n' && datum.kind === 'pair'"}], "mark": {"type": "text", "fontSize": 8, "baseline": "alphabetic", "dy": 2, "color": "#231f20"}, "encoding": {"y": {"field": "value", "type": "quantitative", "scale": {"domain": [0, 50], "nice": false, "zero": false}}, "text": {"field": "label"}}},
       {"data": {"name": "stars"}, "transform": [{"filter": "datum.panel === 'n' && datum.kind === 'cross'"}], "mark": {"type": "text", "fontSize": 8, "baseline": "alphabetic", "dy": 2, "dx": 27.65, "color": "#231f20"}, "encoding": {"xOffset": {"field": "diet", "type": "nominal", "sort": ["Ad libitum", "Every-other-day feeding"]}, "y": {"field": "value", "type": "quantitative", "scale": {"domain": [0, 50], "nice": false, "zero": false}}, "text": {"field": "label"}}}
     ]},
    {"title": {"text": "o", "subtitle": ["Age: p=0.0030", "Diet: p=0.9438", "Interaction: p=0.0044"]}, "width": 112, "height": 97,
     "encoding": {"x": {"field": "group", "type": "nominal", "sort": ["Young", "Old"], "scale": {"paddingInner": 0.375, "paddingOuter": 0.2}, "axis": {"title": null}},
       "y": {"field": "mean", "type": "quantitative", "scale": {"domain": [20, 60], "nice": false, "zero": false}, "axis": {"values": [20, 30, 40, 50, 60], "title": "QTc interval (ms)"}}},
     "layer": [
       {"data": {"name": "bars"}, "transform": [{"filter": "datum.panel === 'o'"}], "mark": "bar", "encoding": {"y2": {"datum": 20}, "xOffset": {"field": "diet", "type": "nominal", "sort": ["Ad libitum", "Every-other-day feeding"], "scale": {"paddingInner": 0.33, "paddingOuter": 0}}, "color": {"field": "diet", "type": "nominal", "scale": {"domain": ["Ad libitum", "Every-other-day feeding"], "range": ["#231f20", "#a7a9ac"]}}}},
       {"data": {"name": "bars"}, "transform": [{"filter": "datum.panel === 'o'"}], "mark": {"type": "rule", "strokeWidth": 1}, "encoding": {"xOffset": {"field": "diet", "type": "nominal", "sort": ["Ad libitum", "Every-other-day feeding"]}, "y2": {"field": "upper"}, "color": {"field": "diet", "type": "nominal", "legend": null}}},
       {"data": {"name": "bars"}, "transform": [{"filter": "datum.panel === 'o'"}], "mark": {"type": "tick", "thickness": 1, "size": 8}, "encoding": {"xOffset": {"field": "diet", "type": "nominal", "sort": ["Ad libitum", "Every-other-day feeding"]}, "y": {"field": "upper", "type": "quantitative", "scale": {"domain": [20, 60], "nice": false, "zero": false}}, "color": {"field": "diet", "type": "nominal", "legend": null}}},
       {"data": {"name": "brk"}, "transform": [{"filter": "datum.panel === 'o'"}], "mark": {"type": "line", "color": "#4d4d4d", "strokeWidth": 0.8}, "encoding": {"xOffset": {"field": "diet", "type": "nominal", "sort": ["Ad libitum", "Every-other-day feeding"]}, "y": {"field": "value", "type": "quantitative", "scale": {"domain": [20, 60], "nice": false, "zero": false}}, "detail": {"field": "id"}, "order": {"field": "ord"}}},
       {"data": {"name": "stars"}, "transform": [{"filter": "datum.panel === 'o' && datum.kind === 'cross'"}], "mark": {"type": "text", "fontSize": 8, "baseline": "alphabetic", "dy": 2, "dx": 27.65, "color": "#231f20"}, "encoding": {"xOffset": {"field": "diet", "type": "nominal", "sort": ["Ad libitum", "Every-other-day feeding"]}, "y": {"field": "value", "type": "quantitative", "scale": {"domain": [20, 60], "nice": false, "zero": false}}, "text": {"field": "label"}}}
     ]},
    {"title": {"text": "p", "subtitle": ["Age: p=0.0350", "Diet: p=0.4619", "Interaction: p=0.4453"]}, "width": 112, "height": 97,
     "encoding": {"x": {"field": "group", "type": "nominal", "sort": ["Young", "Old"], "scale": {"paddingInner": 0.375, "paddingOuter": 0.2}, "axis": {"title": null}},
       "y": {"field": "mean", "type": "quantitative", "scale": {"domain": [0, 40], "nice": false, "zero": false}, "axis": {"values": [0, 10, 20, 30, 40], "title": "QTc dispersion (ms)"}}},
     "layer": [
       {"data": {"name": "bars"}, "transform": [{"filter": "datum.panel === 'p'"}], "mark": "bar", "encoding": {"y2": {"datum": 0}, "xOffset": {"field": "diet", "type": "nominal", "sort": ["Ad libitum", "Every-other-day feeding"], "scale": {"paddingInner": 0.33, "paddingOuter": 0}}, "color": {"field": "diet", "type": "nominal", "scale": {"domain": ["Ad libitum", "Every-other-day feeding"], "range": ["#231f20", "#a7a9ac"]}}}},
       {"data": {"name": "bars"}, "transform": [{"filter": "datum.panel === 'p'"}], "mark": {"type": "rule", "strokeWidth": 1}, "encoding": {"xOffset": {"field": "diet", "type": "nominal", "sort": ["Ad libitum", "Every-other-day feeding"]}, "y2": {"field": "upper"}, "color": {"field": "diet", "type": "nominal", "legend": null}}},
       {"data": {"name": "bars"}, "transform": [{"filter": "datum.panel === 'p'"}], "mark": {"type": "tick", "thickness": 1, "size": 8}, "encoding": {"xOffset": {"field": "diet", "type": "nominal", "sort": ["Ad libitum", "Every-other-day feeding"]}, "y": {"field": "upper", "type": "quantitative", "scale": {"domain": [0, 40], "nice": false, "zero": false}}, "color": {"field": "diet", "type": "nominal", "legend": null}}}
     ]}
   ], "bounds": "flush", "spacing": 59.6, "resolve": {"scale": {"xOffset": "independent"}}},
   {"hconcat": [
    {"title": {"text": "q", "subtitle": ["Age: p<0.0001", "Diet: p=0.2072", "Interaction: p=0.0130"]}, "width": 112, "height": 97,
     "encoding": {"x": {"field": "group", "type": "nominal", "sort": ["Young", "Old"], "scale": {"paddingInner": 0.375, "paddingOuter": 0.2}, "axis": {"title": null}},
       "y": {"field": "mean", "type": "quantitative", "scale": {"domain": [0, 0.2], "nice": false, "zero": false}, "axis": {"values": [0, 0.05, 0.1, 0.15, 0.2], "title": "Marrow area (mm²)"}}},
     "layer": [
       {"data": {"name": "bars"}, "transform": [{"filter": "datum.panel === 'q'"}], "mark": "bar", "encoding": {"y2": {"datum": 0}, "xOffset": {"field": "diet", "type": "nominal", "sort": ["Ad libitum", "Every-other-day feeding"], "scale": {"paddingInner": 0.33, "paddingOuter": 0}}, "color": {"field": "diet", "type": "nominal", "scale": {"domain": ["Ad libitum", "Every-other-day feeding"], "range": ["#231f20", "#a7a9ac"]}}}},
       {"data": {"name": "bars"}, "transform": [{"filter": "datum.panel === 'q'"}], "mark": {"type": "rule", "strokeWidth": 1}, "encoding": {"xOffset": {"field": "diet", "type": "nominal", "sort": ["Ad libitum", "Every-other-day feeding"]}, "y2": {"field": "upper"}, "color": {"field": "diet", "type": "nominal", "legend": null}}},
       {"data": {"name": "bars"}, "transform": [{"filter": "datum.panel === 'q'"}], "mark": {"type": "tick", "thickness": 1, "size": 8}, "encoding": {"xOffset": {"field": "diet", "type": "nominal", "sort": ["Ad libitum", "Every-other-day feeding"]}, "y": {"field": "upper", "type": "quantitative", "scale": {"domain": [0, 0.2], "nice": false, "zero": false}}, "color": {"field": "diet", "type": "nominal", "legend": null}}},
       {"data": {"name": "brk"}, "transform": [{"filter": "datum.panel === 'q'"}], "mark": {"type": "line", "color": "#4d4d4d", "strokeWidth": 0.8}, "encoding": {"xOffset": {"field": "diet", "type": "nominal", "sort": ["Ad libitum", "Every-other-day feeding"]}, "y": {"field": "value", "type": "quantitative", "scale": {"domain": [0, 0.2], "nice": false, "zero": false}}, "detail": {"field": "id"}, "order": {"field": "ord"}}},
       {"data": {"name": "stars"}, "transform": [{"filter": "datum.panel === 'q' && datum.kind === 'pair'"}], "mark": {"type": "text", "fontSize": 8, "baseline": "alphabetic", "dy": 2, "color": "#231f20"}, "encoding": {"y": {"field": "value", "type": "quantitative", "scale": {"domain": [0, 0.2], "nice": false, "zero": false}}, "text": {"field": "label"}}},
       {"data": {"name": "stars"}, "transform": [{"filter": "datum.panel === 'q' && datum.kind === 'cross'"}], "mark": {"type": "text", "fontSize": 8, "baseline": "alphabetic", "dy": 2, "dx": 27.65, "color": "#231f20"}, "encoding": {"xOffset": {"field": "diet", "type": "nominal", "sort": ["Ad libitum", "Every-other-day feeding"]}, "y": {"field": "value", "type": "quantitative", "scale": {"domain": [0, 0.2], "nice": false, "zero": false}}, "text": {"field": "label"}}}
     ]},
    {"title": {"text": "r", "subtitle": ["Age: p<0.0001", "Diet: p=0.0397", "Interaction: p=0.0304"]}, "width": 112, "height": 97,
     "encoding": {"x": {"field": "group", "type": "nominal", "sort": ["Young", "Old"], "scale": {"paddingInner": 0.375, "paddingOuter": 0.2}, "axis": {"title": null, "labelExpr": "datum.label === 'Old' ? 'old' : datum.label"}},
       "y": {"field": "mean", "type": "quantitative", "scale": {"domain": [0, 0.4], "nice": false, "zero": false}, "axis": {"values": [0, 0.1, 0.2, 0.3, 0.4], "title": "Cortical thickness (mm)"}}},
     "layer": [
       {"data": {"name": "bars"}, "transform": [{"filter": "datum.panel === 'r'"}], "mark": "bar", "encoding": {"y2": {"datum": 0}, "xOffset": {"field": "diet", "type": "nominal", "sort": ["Ad libitum", "Every-other-day feeding"], "scale": {"paddingInner": 0.33, "paddingOuter": 0}}, "color": {"field": "diet", "type": "nominal", "scale": {"domain": ["Ad libitum", "Every-other-day feeding"], "range": ["#231f20", "#a7a9ac"]}}}},
       {"data": {"name": "bars"}, "transform": [{"filter": "datum.panel === 'r'"}], "mark": {"type": "rule", "strokeWidth": 1}, "encoding": {"xOffset": {"field": "diet", "type": "nominal", "sort": ["Ad libitum", "Every-other-day feeding"]}, "y2": {"field": "upper"}, "color": {"field": "diet", "type": "nominal", "legend": null}}},
       {"data": {"name": "bars"}, "transform": [{"filter": "datum.panel === 'r'"}], "mark": {"type": "tick", "thickness": 1, "size": 8}, "encoding": {"xOffset": {"field": "diet", "type": "nominal", "sort": ["Ad libitum", "Every-other-day feeding"]}, "y": {"field": "upper", "type": "quantitative", "scale": {"domain": [0, 0.4], "nice": false, "zero": false}}, "color": {"field": "diet", "type": "nominal", "legend": null}}},
       {"data": {"name": "brk"}, "transform": [{"filter": "datum.panel === 'r'"}], "mark": {"type": "line", "color": "#4d4d4d", "strokeWidth": 0.8}, "encoding": {"xOffset": {"field": "diet", "type": "nominal", "sort": ["Ad libitum", "Every-other-day feeding"]}, "y": {"field": "value", "type": "quantitative", "scale": {"domain": [0, 0.4], "nice": false, "zero": false}}, "detail": {"field": "id"}, "order": {"field": "ord"}}},
       {"data": {"name": "stars"}, "transform": [{"filter": "datum.panel === 'r' && datum.kind === 'pair'"}], "mark": {"type": "text", "fontSize": 8, "baseline": "alphabetic", "dy": 2, "color": "#231f20"}, "encoding": {"y": {"field": "value", "type": "quantitative", "scale": {"domain": [0, 0.4], "nice": false, "zero": false}}, "text": {"field": "label"}}},
       {"data": {"name": "stars"}, "transform": [{"filter": "datum.panel === 'r' && datum.kind === 'cross'"}], "mark": {"type": "text", "fontSize": 8, "baseline": "alphabetic", "dy": 2, "dx": 27.65, "color": "#231f20"}, "encoding": {"xOffset": {"field": "diet", "type": "nominal", "sort": ["Ad libitum", "Every-other-day feeding"]}, "y": {"field": "value", "type": "quantitative", "scale": {"domain": [0, 0.4], "nice": false, "zero": false}}, "text": {"field": "label"}}}
     ]},
    {"title": {"text": "s", "subtitle": ["Age: p<0.0001", "Diet: p=0.2481", "Interaction: p=0.0525"]}, "width": 112, "height": 97,
     "encoding": {"x": {"field": "group", "type": "nominal", "sort": ["Young", "Old"], "scale": {"paddingInner": 0.375, "paddingOuter": 0.2}, "axis": {"title": null}},
       "y": {"field": "mean", "type": "quantitative", "scale": {"domain": [0, 0.25], "nice": false, "zero": false}, "axis": {"values": [0, 0.05, 0.1, 0.15, 0.2, 0.25], "title": "Polar moment of inertia (mm⁴)"}}},
     "layer": [
       {"data": {"name": "bars"}, "transform": [{"filter": "datum.panel === 's'"}], "mark": "bar", "encoding": {"y2": {"datum": 0}, "xOffset": {"field": "diet", "type": "nominal", "sort": ["Ad libitum", "Every-other-day feeding"], "scale": {"paddingInner": 0.33, "paddingOuter": 0}}, "color": {"field": "diet", "type": "nominal", "scale": {"domain": ["Ad libitum", "Every-other-day feeding"], "range": ["#231f20", "#a7a9ac"]}}}},
       {"data": {"name": "bars"}, "transform": [{"filter": "datum.panel === 's'"}], "mark": {"type": "rule", "strokeWidth": 1}, "encoding": {"xOffset": {"field": "diet", "type": "nominal", "sort": ["Ad libitum", "Every-other-day feeding"]}, "y2": {"field": "upper"}, "color": {"field": "diet", "type": "nominal", "legend": null}}},
       {"data": {"name": "bars"}, "transform": [{"filter": "datum.panel === 's'"}], "mark": {"type": "tick", "thickness": 1, "size": 8}, "encoding": {"xOffset": {"field": "diet", "type": "nominal", "sort": ["Ad libitum", "Every-other-day feeding"]}, "y": {"field": "upper", "type": "quantitative", "scale": {"domain": [0, 0.25], "nice": false, "zero": false}}, "color": {"field": "diet", "type": "nominal", "legend": null}}},
       {"data": {"name": "brk"}, "transform": [{"filter": "datum.panel === 's'"}], "mark": {"type": "line", "color": "#4d4d4d", "strokeWidth": 0.8}, "encoding": {"xOffset": {"field": "diet", "type": "nominal", "sort": ["Ad libitum", "Every-other-day feeding"]}, "y": {"field": "value", "type": "quantitative", "scale": {"domain": [0, 0.25], "nice": false, "zero": false}}, "detail": {"field": "id"}, "order": {"field": "ord"}}},
       {"data": {"name": "stars"}, "transform": [{"filter": "datum.panel === 's' && datum.kind === 'cross'"}], "mark": {"type": "text", "fontSize": 8, "baseline": "alphabetic", "dy": 2, "dx": 27.65, "color": "#231f20"}, "encoding": {"xOffset": {"field": "diet", "type": "nominal", "sort": ["Ad libitum", "Every-other-day feeding"]}, "y": {"field": "value", "type": "quantitative", "scale": {"domain": [0, 0.25], "nice": false, "zero": false}}, "text": {"field": "label"}}}
     ]}
   ], "bounds": "flush", "spacing": 59.6, "resolve": {"scale": {"xOffset": "independent"}}}
  ]
}
